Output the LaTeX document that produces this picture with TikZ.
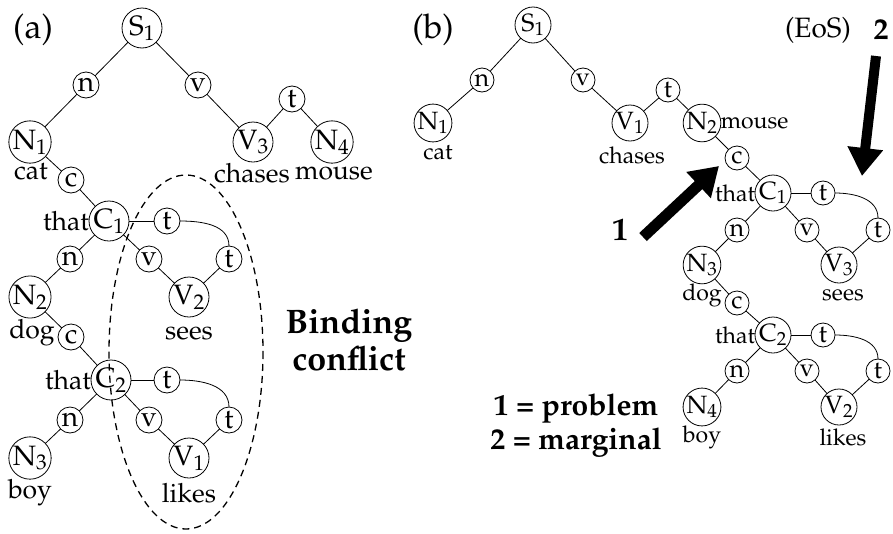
\documentclass[tikz,border=0pt]{standalone}
\usepackage[T1]{fontenc}
\usepackage{mathpazo}
\usetikzlibrary{arrows.meta}
\begin{document}
\begin{tikzpicture}[x=1pt,y=-1pt,
  every node/.style={inner sep=0pt, outer sep=0pt},
  edge/.style={line width=0.8pt},
  bigL/.style={circle, draw, line width=0.8pt, minimum size=40pt, font=\fontsize{28}{32}\selectfont},
  smallL/.style={circle, draw, line width=0.8pt, minimum size=26pt, font=\fontsize{28}{32}\selectfont},
  wordL/.style={font=\fontsize{26.5}{30}\selectfont},
  bigR/.style={circle, draw, line width=0.8pt, minimum size=36pt, font=\fontsize{25}{29}\selectfont},
  smallR/.style={circle, draw, line width=0.8pt, minimum size=24pt, font=\fontsize{25}{29}\selectfont},
  wordR/.style={font=\fontsize{23}{27}\selectfont},
  panel/.style={font=\fontsize{34}{40}\selectfont},
  fat/.style={-{Triangle[length=28pt, width=34pt]}},
]
\useasboundingbox (0,0) rectangle (893,533);

% ---------------- panel (a) ----------------
\node[panel] (labA) at (33,30) {(a)};
\node[bigL] (aS1) at (142,28) {S$_1$};
\node[smallL] (an1) at (86,85) {n};
\node[smallL] (av1) at (198,85) {v};
\node[smallL] (at1) at (292,99) {t};
\node[bigL] (aN1) at (30,142) {N$_1$};
\node[bigL] (aV3) at (253,142) {V$_3$};
\node[bigL] (aN4) at (332,142) {N$_4$};
\node[wordL] (acat) at (31,172) {cat};
\node[wordL] (achases) at (252,173) {chases};
\node[wordL] (amouse) at (334,173) {mouse};
\node[smallL] (ac1) at (71,180) {c};

\node[bigL] (aC1) at (109,221) {C$_1$};
\node[wordL, anchor=east] (athat1) at (aC1.west) {that};
\node[smallL] (atA) at (167,221) {t};
\node[smallL] (atB) at (229,259) {t};
\node[smallL] (an2) at (70,259) {n};
\node[smallL] (av2) at (149,259) {v};
\node[bigL] (aN2) at (30,297) {N$_2$};
\node[bigL] (aV2) at (189,297) {V$_2$};
\node[wordL] (adog) at (32,333) {dog};
\node[wordL] (asees) at (189,333) {sees};
\node[smallL] (ac2) at (71,337) {c};

\node[bigL] (aC2) at (111,380) {C$_2$};
\node[wordL, anchor=east] (athat2) at (aC2.west) {that};
\node[smallL] (atC) at (167,380) {t};
\node[smallL] (atD) at (229,420) {t};
\node[smallL] (an3) at (70,420) {n};
\node[smallL] (av3) at (149,420) {v};
\node[bigL] (aN3) at (30,458) {N$_3$};
\node[bigL] (aV1) at (189,458) {V$_1$};
\node[wordL] (aboy) at (30,493) {boy};
\node[wordL] (alikes) at (189,493) {likes};

\draw[edge] (aS1) -- (an1) -- (aN1);
\draw[edge] (aS1) -- (av1) -- (aV3);
\draw[edge] (aV3) -- (at1) -- (aN4);
\draw[edge] (aN1) -- (ac1) -- (aC1);
\draw[edge] (aC1) -- (atA);
\draw[edge] (atA.east) to[out=0, in=90] (atB.north);
\draw[edge] (atB) -- (aV2);
\draw[edge] (aC1) -- (av2) -- (aV2);
\draw[edge] (aC1) -- (an2) -- (aN2);
\draw[edge] (aN2) -- (ac2) -- (aC2);
\draw[edge] (aC2) -- (atC);
\draw[edge] (atC.east) to[out=0, in=90] (atD.north);
\draw[edge] (atD) -- (aV1);
\draw[edge] (aC2) -- (av3) -- (aV1);
\draw[edge] (aC2) -- (an3) -- (aN3);

% binding region
\draw[line width=1.3pt, dash pattern=on 7pt off 5pt] (186,352) ellipse [x radius=77, y radius=177];
\node[font=\fontsize{34}{37}\selectfont\bfseries, align=center] (bind) at (349,340) {Binding\\conflict};

% ---------------- panel (b) ----------------
\node[panel] (labB) at (433,30) {(b)};
\node[bigR] (bS1) at (533,25) {S$_1$};
\node[smallR] (bn1) at (482,80) {n};
\node[smallR] (bv1) at (583,80) {v};
\node[smallR] (bt1) at (668,90) {t};
\node[bigR] (bN1) at (433,123) {N$_1$};
\node[bigR] (bV1) at (630,123) {V$_1$};
\node[bigR] (bN2) at (702,123) {N$_2$};
\node[wordR] (bcat) at (438,153) {cat};
\node[wordR] (bchases) at (632,155) {chases};
\node[wordR, anchor=west] (bmouse) at (bN2.east) {mouse};
\node[smallR] (bc1) at (737,158) {c};

\node[bigR] (bC1) at (773,193) {C$_1$};
\node[wordR, anchor=east] (bthat1) at (bC1.west) {that};
\node[smallR] (btA) at (823,193) {t};
\node[smallR] (btB) at (878,230) {t};
\node[smallR] (bn2) at (737,230) {n};
\node[smallR] (bv2) at (807,230) {v};
\node[bigR] (bN3) at (702,265) {N$_3$};
\node[bigR] (bV3) at (839,265) {V$_3$};
\node[wordR] (bdog) at (702,295) {dog};
\node[wordR] (bsees) at (843,295) {sees};
\node[smallR] (bc2) at (737,303) {c};

\node[bigR] (bC2) at (773,335) {C$_2$};
\node[wordR, anchor=east] (bthat2) at (bC2.west) {that};
\node[smallR] (btC) at (823,335) {t};
\node[smallR] (btD) at (878,371) {t};
\node[smallR] (bn3) at (737,371) {n};
\node[smallR] (bv3) at (807,371) {v};
\node[bigR] (bN4) at (702,407) {N$_4$};
\node[bigR] (bV2) at (839,407) {V$_2$};
\node[wordR] (bboy) at (702,437) {boy};
\node[wordR] (blikes) at (843,437) {likes};

\draw[edge] (bS1) -- (bn1) -- (bN1);
\draw[edge] (bS1) -- (bv1) -- (bV1);
\draw[edge] (bV1) -- (bt1) -- (bN2);
\draw[edge] (bN2) -- (bc1) -- (bC1);
\draw[edge] (bC1) -- (btA);
\draw[edge] (btA.east) to[out=0, in=90] (btB.north);
\draw[edge] (btB) -- (bV3);
\draw[edge] (bC1) -- (bv2) -- (bV3);
\draw[edge] (bC1) -- (bn2) -- (bN3);
\draw[edge] (bN3) -- (bc2) -- (bC2);
\draw[edge] (bC2) -- (btC);
\draw[edge] (btC.east) to[out=0, in=90] (btD.north);
\draw[edge] (btD) -- (bV2);
\draw[edge] (bC2) -- (bv3) -- (bV2);
\draw[edge] (bC2) -- (bn3) -- (bN4);

% markers
\node[font=\fontsize{28}{32}\selectfont] (eos) at (818,30) {(EoS)};
\node[font=\fontsize{30}{34}\selectfont\bfseries] (two) at (881,30) {2};
\node[font=\fontsize{32}{36}\selectfont\bfseries] (one) at (620,230) {1};
\coordinate (oneTail) at (643,237);
\coordinate (oneTip) at (719,166);
\coordinate (twoTail) at (876,56);
\coordinate (twoTip) at (862,176);
\draw[line width=11pt, fat] (oneTail) -- (oneTip);
\draw[line width=10pt, fat] (twoTail) -- (twoTip);

\node[font=\fontsize{30}{34}\selectfont\bfseries, align=center] (legend) at (576,425) {1 = problem\\2 = marginal};
\end{tikzpicture}
\end{document}
